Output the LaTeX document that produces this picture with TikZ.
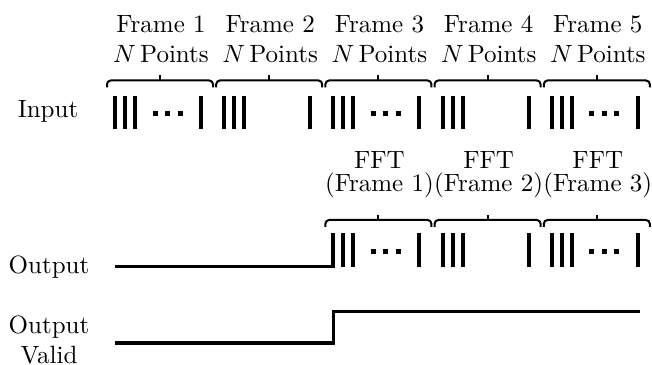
\documentclass[tikz,border=0pt]{standalone}
\usepackage{amsmath,amssymb}
\usepackage{tikz}

\begin{document}
\begin{tikzpicture}[
  x=0.4pt, y=-0.4pt,
  every node/.style = {inner sep=0pt},
  lbl/.style = {align=center, anchor=south},
  brc/.style = {line width=0.8pt, rounded corners=1.5pt},
  bar/.style = {line width=1.6pt},
  dts/.style = {line width=2pt, dash pattern=on 2pt off 3pt},
  sig/.style = {line width=1.3pt}
]
  \useasboundingbox (0,0) rectangle (652,365);

  \node[anchor=base] (input)  at (48,118) {Input};
  \node[anchor=base] (output) at (49,273) {Output};
  \node[anchor=north, align=center] (valid) at (49,315) {Output\\Valid};

  \foreach \i in {1,...,5} {
    \pgfmathsetmacro{\s}{107+109.2*(\i-1)}
    \draw[brc] (\s,87.5) |- (\s+106,80.5) -- (\s+106,87.5);
    \draw[brc] (\s+53,80.5) -- (\s+53,75.5);
    \node[lbl] (frame\i) at (\s+54,63) {Frame \i\\$N$\,Points};
    \foreach \d in {8,18,28,94}
      \draw[bar] (\s+\d,96) -- (\s+\d,129);
  }
  \foreach \i in {1,3,5} {
    \pgfmathsetmacro{\s}{107+109.2*(\i-1)}
    \draw[dts] (\s+45.5,114) -- (\s+75.5,114);
  }

  \foreach \i in {3,4,5} {
    \pgfmathsetmacro{\s}{107+109.2*(\i-1)}
    \pgfmathtruncatemacro{\j}{\i-2}
    \draw[brc] (\s,227) |- (\s+106,220) -- (\s+106,227);
    \draw[brc] (\s+53,220) -- (\s+53,215);
    \node[lbl] (fft\j) at (\s+54,198) {FFT\\[-3pt](Frame \j)};
    \foreach \d in {8,18,28,94}
      \draw[bar] (\s+\d,233) -- (\s+\d,266.5);
  }
  \foreach \i in {3,5} {
    \pgfmathsetmacro{\s}{107+109.2*(\i-1)}
    \draw[dts] (\s+45.5,251.5) -- (\s+75.5,251.5);
  }

  \draw[sig] (115,266.5) -| (333.4,233);
  \draw[sig] (115,343) -| (333.4,311.7) -- (640,311.7);
\end{tikzpicture}
\end{document}
